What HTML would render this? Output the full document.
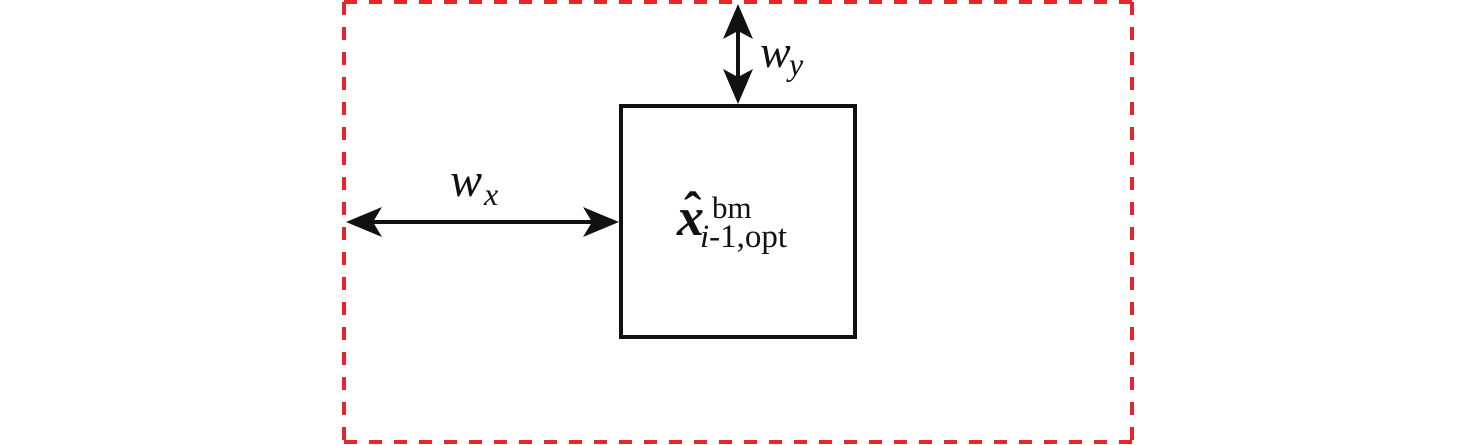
<!DOCTYPE html>
<html>
<head>
<meta charset="utf-8">
<style>
  html, body { margin: 0; padding: 0; background: #ffffff; }
  body { width: 1476px; height: 445px; overflow: hidden; }
  svg { display: block; }
</style>
</head>
<body>
<svg width="1476" height="445" viewBox="0 0 1476 445" xmlns="http://www.w3.org/2000/svg" font-family="'Liberation Serif', serif">
  <!-- red dashed outer rectangle -->
  <g stroke="#e5272d" stroke-width="4" fill="none" stroke-dasharray="13 12">
    <line x1="344" y1="2" x2="1132" y2="2"/>
    <line x1="344" y1="442" x2="1132" y2="442"/>
    <line x1="344" y1="2" x2="344" y2="442"/>
    <line x1="1132" y1="2" x2="1132" y2="442"/>
  </g>

  <!-- inner box -->
  <rect x="621" y="106" width="234" height="231" fill="none" stroke="#111111" stroke-width="4"/>

  <!-- horizontal double arrow -->
  <line x1="370" y1="222" x2="596" y2="222" stroke="#111111" stroke-width="4"/>
  <polygon points="346,222 382,207 373,222 382,237" fill="#111111"/>
  <polygon points="619,222 583,207 592,222 583,237" fill="#111111"/>

  <!-- vertical double arrow -->
  <line x1="738" y1="30" x2="738" y2="78" stroke="#111111" stroke-width="4"/>
  <polygon points="738,4 723,39 738,31 753,39" fill="#111111"/>
  <polygon points="738,104 723,69 738,77 753,69" fill="#111111"/>

  <!-- w_x -->
  <text x="450" y="196" font-family="'Liberation Serif', serif" style="font-family:'Liberation Serif', serif" font-size="48" font-style="italic" fill="#111">w</text>
  <text x="484" y="205" font-family="'Liberation Serif', serif" style="font-family:'Liberation Serif', serif" font-size="32" font-style="italic" fill="#111">x</text>

  <!-- w_y -->
  <text x="760" y="67" font-family="'Liberation Serif', serif" style="font-family:'Liberation Serif', serif" font-size="46" font-style="italic" fill="#111">w</text>
  <text x="789" y="75" font-family="'Liberation Serif', serif" style="font-family:'Liberation Serif', serif" font-size="32" font-style="italic" fill="#111">y</text>

  <!-- x hat bm i-1,opt -->
  <text x="677" y="235" font-family="'Liberation Serif', serif" style="font-family:'Liberation Serif', serif" font-size="54" font-style="italic" font-weight="bold" fill="#111">x</text>
  <text x="684" y="228" font-family="'Liberation Serif', serif" style="font-family:'Liberation Serif', serif" font-size="52" font-weight="bold" fill="#111">ˆ</text>
  <text x="712" y="218" font-family="'Liberation Serif', serif" style="font-family:'Liberation Serif', serif" font-size="31" fill="#111">bm</text>
  <text x="700" y="247" font-family="'Liberation Serif', serif" style="font-family:'Liberation Serif', serif" font-size="33" fill="#111"><tspan font-style="italic">i</tspan>-1,opt</text>
</svg>
</body>
</html>
